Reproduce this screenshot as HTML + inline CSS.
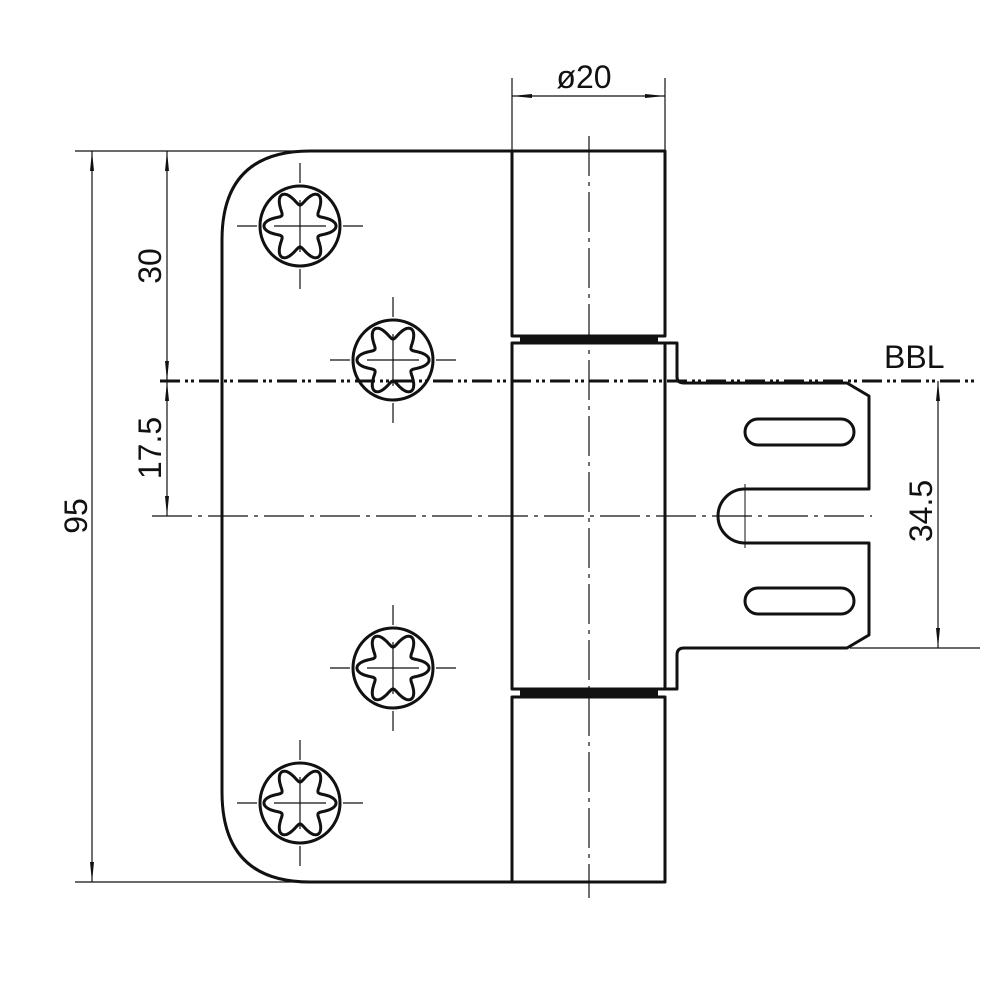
<!DOCTYPE html>
<html><head><meta charset="utf-8"><style>html,body{margin:0;padding:0;background:#fff}svg{display:block}</style></head>
<body>
<svg id="s" width="1000" height="1000" viewBox="0 0 1000 1000" xmlns="http://www.w3.org/2000/svg" font-family="Liberation Sans, sans-serif">
<defs>
<marker id="a" viewBox="0 0 20 6" refX="20" refY="3" markerWidth="20" markerHeight="6" markerUnits="userSpaceOnUse" orient="auto-start-reverse"><path d="M0,1 L20,3 L0,5z" fill="#111"/></marker>
</defs>
<g fill="none" stroke="#111" stroke-width="1.2">
<line x1="75" y1="151" x2="310" y2="151"/>
<line x1="75" y1="882" x2="310" y2="882"/>
<line x1="512" y1="78" x2="512" y2="151"/>
<line x1="665" y1="78" x2="665" y2="151"/>
<line x1="850" y1="648" x2="980" y2="648"/>
<line x1="92" y1="151" x2="92" y2="882" marker-start="url(#a)" marker-end="url(#a)"/>
<line x1="167" y1="151" x2="167" y2="381" marker-start="url(#a)" marker-end="url(#a)"/>
<line x1="167" y1="381" x2="167" y2="516" marker-start="url(#a)" marker-end="url(#a)"/>
<line x1="512" y1="96" x2="665" y2="96" marker-start="url(#a)" marker-end="url(#a)"/>
<line x1="938" y1="381" x2="938" y2="648" marker-start="url(#a)" marker-end="url(#a)"/>
<line x1="152" y1="516" x2="872" y2="516" stroke-dasharray="40,6,4,6"/>
<line x1="745" y1="484" x2="745" y2="548" stroke-width="1"/>
</g>
<line x1="160" y1="381" x2="975" y2="381" stroke="#111" stroke-width="3" stroke-dasharray="20,5,3,3,3,5"/>
<g fill="none" stroke="#111" stroke-width="3" stroke-linejoin="round">
<path d="M512,151 L310,151 Q222,151 222,240 L222,792 Q222,882 310,882 L512,882"/>
<rect x="512" y="151" width="153" height="185" fill="#fff"/>
<rect x="512" y="343" width="153" height="346" fill="none"/>
<rect x="512" y="697" width="153" height="185" fill="#fff"/>
<path d="M665,343 L677,343 L677,377 Q677,383 684,383 L847,383 L869,396 L869,489 L745,489 A27,27 0 0 0 745,543 L869,543 L869,635 L847,648 L684,648 Q677,648 677,655 L677,689 L665,689"/>
<rect x="745" y="419" width="109" height="26" rx="13"/>
<rect x="745" y="588" width="109" height="26" rx="13"/>
</g>
<rect x="520" y="335" width="138" height="8" fill="#111"/>
<rect x="520" y="689" width="138" height="8" fill="#111"/>
<line x1="589" y1="136" x2="589" y2="898" stroke="#111" stroke-width="1.2" stroke-dasharray="40,6,4,6"/>
<g id="screws" fill="none" stroke="#111"></g>
<g fill="#111" font-size="32">
<text x="584" y="88" text-anchor="middle">ø20</text>
<text x="884" y="368">BBL</text>
<text transform="translate(87,516) rotate(-90)" text-anchor="middle">95</text>
<text transform="translate(161,266) rotate(-90)" text-anchor="middle">30</text>
<text transform="translate(161,448) rotate(-90)" text-anchor="middle">17.5</text>
<text transform="translate(932,511) rotate(-90)" text-anchor="middle">34.5</text>
</g>
</svg>
<script>
var g=document.getElementById('screws'),h='';
[[300,226],[393,360],[393,668],[300,803]].forEach(function(c){
var x=c[0],y=c[1];
h+='<circle cx="'+x+'" cy="'+y+'" r="40" stroke-width="3"/>';
var d='';for(var i=0;i<=360;i++){var t=i*Math.PI/180,r=28.5+7.5*Math.cos(6*t);d+=(i?'L':'M')+(x+r*Math.cos(t)).toFixed(1)+','+(y+r*Math.sin(t)).toFixed(1);}
h+='<path d="'+d+'Z" stroke-width="3"/>';
h+='<g stroke-width="1.2"><line x1="'+(x-63)+'" y1="'+y+'" x2="'+(x-43)+'" y2="'+y+'"/><line x1="'+(x+43)+'" y1="'+y+'" x2="'+(x+63)+'" y2="'+y+'"/><line x1="'+(x-26)+'" y1="'+y+'" x2="'+(x+26)+'" y2="'+y+'"/>';
h+='<line y1="'+(y-63)+'" x1="'+x+'" y2="'+(y-43)+'" x2="'+x+'"/><line y1="'+(y+43)+'" x1="'+x+'" y2="'+(y+63)+'" x2="'+x+'"/><line y1="'+(y-26)+'" x1="'+x+'" y2="'+(y+26)+'" x2="'+x+'"/></g>';
});
g.innerHTML=h;
</script>
</body></html>
